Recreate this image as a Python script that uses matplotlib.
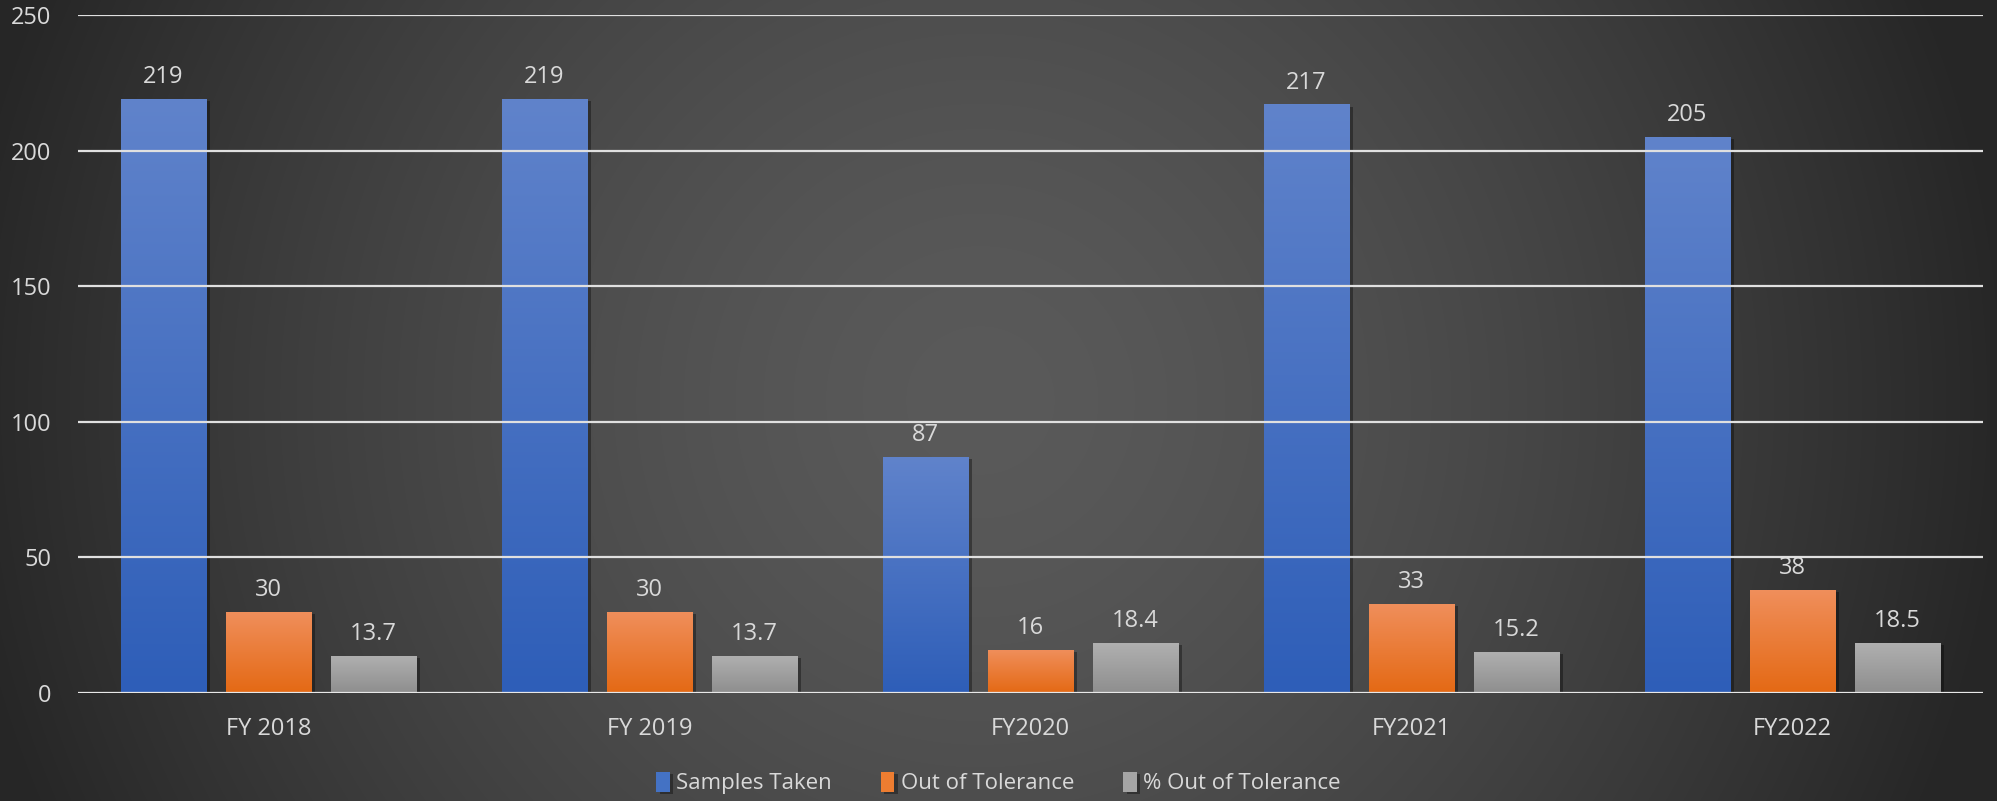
import numpy as np
import matplotlib
matplotlib.use("Agg")
import matplotlib.pyplot as plt
from matplotlib.colors import LinearSegmentedColormap
from matplotlib.patches import Rectangle
import matplotlib.patheffects as pe

categories = ["FY 2018", "FY 2019", "FY2020", "FY2021", "FY2022"]
samples_taken = [219, 219, 87, 217, 205]
out_of_tolerance = [30, 30, 16, 33, 38]
pct_out_of_tolerance = [13.7, 13.7, 18.4, 15.2, 18.5]
series_names = ["Samples Taken", "Out of Tolerance", "% Out of Tolerance"]
y_ticks = [0, 50, 100, 150, 200, 250]

plt.rcParams['font.family'] = ['Open Sans', 'DejaVu Sans']

W, H = 1997, 801
fig = plt.figure(figsize=(W / 100, H / 100), dpi=100)

# background radial gradient
bg = fig.add_axes([0, 0, 1, 1], zorder=-10)
yy, xx = np.mgrid[0:H, 0:W]
d = np.sqrt((xx - 980) ** 2 + (yy - 400) ** 2) / 1020.0
d = np.clip(d, 0, 1)
val = 0x5a - (0x5a - 0x27) * d ** 1.5
img = np.dstack([val, val, val]) / 255.0
bg.imshow(img, aspect='auto', extent=[0, 1, 0, 1], origin='upper')
bg.axis('off')

ax = fig.add_axes([78 / W, 1 - 693 / H, (1983 - 78) / W, (693 - 15) / H])
ax.patch.set_alpha(0)

x = np.arange(len(categories))
bw = 0.2257
off = 0.2756
series = [samples_taken, out_of_tolerance, pct_out_of_tolerance]
grads = [("#6083CB", "#2E5EB8"), ("#F08F5C", "#E46914"), ("#B0B0B0", "#8E8E8E")]
legend_cols = ["#4472C4", "#ED7D31", "#A5A5A5"]

for i, (vals, (ctop, cbot)) in enumerate(zip(series, grads)):
    bars = ax.bar(x + (i - 1) * off, vals, width=bw, color=legend_cols[i],
                  zorder=2, label=series_names[i], linewidth=0)
    cmap = LinearSegmentedColormap.from_list("g%d" % i, [cbot, ctop])
    for b in bars:
        b.set_path_effects([pe.SimplePatchShadow(offset=(2.5, -1.5), shadow_rgbFace='black', alpha=0.35),
                            pe.Normal()])
        bx, by = b.get_x(), b.get_y()
        bwid, bh = b.get_width(), b.get_height()
        grad = np.linspace(0, 1, 256).reshape(-1, 1)
        im = ax.imshow(grad, cmap=cmap, aspect='auto', origin='lower',
                       extent=[bx, bx + bwid, by, by + bh], zorder=2.1)
        im.set_clip_path(b)
    for xi, v in zip(x + (i - 1) * off, vals):
        ax.annotate(f"{v:g}", (xi, v), xytext=(0, 11.5), textcoords='offset points',
                    ha='center', va='baseline', color='#D9D9D9', fontsize=17, zorder=1.5)

ax.set_xlim(-0.5, len(categories) - 0.5)
ax.set_ylim(0, 250)
ax.set_yticks(y_ticks)
ax.set_xticks(x)
ax.set_xticklabels(categories)
ax.tick_params(axis='both', length=0, colors='#D9D9D9', labelsize=17)
ax.tick_params(axis='x', pad=17)
ax.tick_params(axis='y', pad=19)
for s in ax.spines.values():
    s.set_visible(False)
ax.yaxis.grid(True, color='#E0E0E0', linewidth=1.6, zorder=1.8)
ax.set_axisbelow(False)
for gl in ax.get_ygridlines():
    gl.set_zorder(1.8)
ax.axhline(0, color='#E8E8E8', linewidth=2.2, zorder=3)

leg = fig.legend(loc='center', bbox_to_anchor=(0.5, 1 - 783 / H), ncol=3, frameon=False,
                 fontsize=16, labelcolor='#D9D9D9', handlelength=0.6, handleheight=1.0,
                 handletextpad=0.3, columnspacing=2.2)

fig.savefig("out.png", dpi=100)
